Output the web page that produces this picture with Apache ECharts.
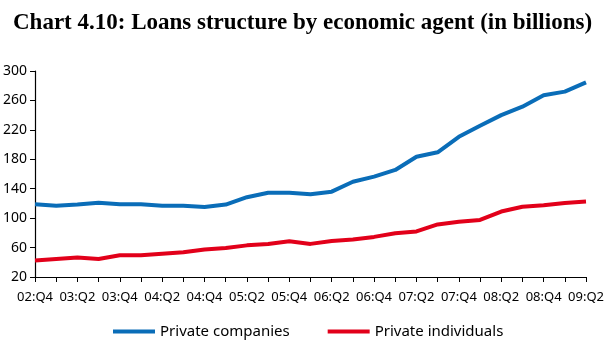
<!DOCTYPE html>
<html>
<head>
<meta charset="utf-8">
<script src="https://cdn.jsdelivr.net/npm/echarts@6/dist/echarts.min.js"></script>
<style>
  body { margin: 0; background: #fff; }
  #chart { width: 612px; height: 340px; }
</style>
</head>
<body>
<div id="chart"></div>
<script>
// quarters 02:Q4 .. 09:Q2
const quarters = [
  '02:Q4', '03:Q1', '03:Q2', '03:Q3', '03:Q4', '04:Q1', '04:Q2', '04:Q3', '04:Q4',
  '05:Q1', '05:Q2', '05:Q3', '05:Q4', '06:Q1', '06:Q2', '06:Q3', '06:Q4',
  '07:Q1', '07:Q2', '07:Q3', '07:Q4', '08:Q1', '08:Q2', '08:Q3', '08:Q4',
  '09:Q1', '09:Q2'
];
const privateCompanies = [
  119, 117, 118.5, 121, 119, 119, 117, 117, 115,
  118.5, 128.5, 134.5, 134.5, 132.5, 136, 149.5, 156.5,
  165.5, 183.5, 189.5, 210.5, 225.5, 240, 251.5, 267,
  272, 284.5
];
const privateIndividuals = [
  42.5, 44.5, 46.5, 44.5, 49.5, 49.5, 51.5, 53.5, 57.5,
  59.5, 63, 65, 68.5, 65, 69, 71, 74.5,
  79.5, 82, 91.5, 95, 97.5, 109, 115.5, 117.5,
  120.5, 122.5
];
const yTicks = [20, 60, 100, 140, 180, 220, 260, 300];

const chart = echarts.init(document.getElementById('chart'));

const makeSeries = (name, data, color) => ({
  name: name,
  type: 'line',
  data: data,
  showSymbol: false,
  animation: false,
  lineStyle: { width: 4, color: color },
  itemStyle: { color: color }
});

chart.setOption({
  animation: false,
  title: {
    text: 'Chart 4.10: Loans structure by economic agent (in billions)',
    left: 13,
    top: 12,
    padding: 0,
    textStyle: {
      fontFamily: 'Liberation Serif',
      fontWeight: 'bold',
      fontSize: 23,
      color: '#000'
    }
  },
  grid: { left: 34, right: 26, top: 71, bottom: 63 },
  legend: {
    bottom: 1,
    left: 113,
    padding: 0,
    itemWidth: 42,
    itemHeight: 4,
    itemGap: 38,
    icon: 'rect',
    textStyle: { fontFamily: 'Noto Sans', fontSize: 15, color: '#000' },
    data: ['Private companies', 'Private individuals']
  },
  xAxis: {
    type: 'category',
    data: quarters,
    boundaryGap: false,
    axisLine: { lineStyle: { color: '#000', width: 1.2 } },
    axisTick: { interval: 0, length: 5, lineStyle: { color: '#000' } },
    axisLabel: {
      interval: 1,
      color: '#000',
      fontFamily: 'Noto Sans',
      fontSize: 13,
      margin: 14
    },
    splitLine: { show: false }
  },
  yAxis: {
    type: 'value',
    min: yTicks[0],
    max: yTicks[yTicks.length - 1],
    interval: 40,
    axisLine: { show: true, lineStyle: { color: '#000', width: 1.2 } },
    axisTick: { show: true, length: 5, lineStyle: { color: '#000' } },
    axisLabel: {
      color: '#000',
      fontFamily: 'Noto Sans',
      fontSize: 14,
      margin: 8
    },
    splitLine: { show: false }
  },
  series: [
    makeSeries('Private companies', privateCompanies, '#0a6db8'),
    makeSeries('Private individuals', privateIndividuals, '#e2001a')
  ]
});
</script>
</body>
</html>
